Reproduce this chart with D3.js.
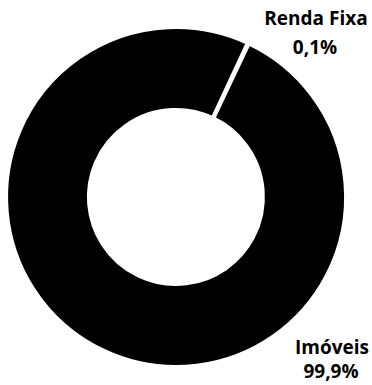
<!DOCTYPE html>
<html><head><meta charset="utf-8">
<script src="https://cdn.jsdelivr.net/npm/d3@7"></script>
<style>html,body{margin:0;padding:0;background:#fff;}svg{display:block;}</style>
</head><body>
<svg id="c" width="372" height="385"></svg>
<script>
const categories = ["Renda Fixa", "Imóveis"];
const values = [0.1, 99.9];
const valueLabels = ["0,1%", "99,9%"];

const svg = d3.select("#c");
const cx = 176, cy = 197, rOuter = 170, rInner = 87;
const startDeg = 25;
const pie = d3.pie().sort(null).value(d => d.v)
  .startAngle(startDeg * Math.PI / 180)
  .endAngle((startDeg + 360) * Math.PI / 180);
const data = categories.map((c, i) => ({c, v: values[i], l: valueLabels[i]}));
const arcs = pie(data);
const arc = d3.arc().innerRadius(rInner).outerRadius(rOuter);
const g = svg.append("g").attr("transform", `translate(${cx},${cy})`);
g.selectAll("path").data(arcs).join("path")
  .attr("d", arc).attr("fill", "#000")
  .attr("stroke", "#fff").attr("stroke-width", 4).attr("stroke-linejoin", "miter");

const labelPos = [[316, 25, 54], [332, 354, 378]];
const font = "'Open Sans', sans-serif";
labelPos.forEach((p, i) => {
  const t = svg.append("text").attr("text-anchor", "middle")
    .attr("font-family", font).attr("font-weight", 700)
    .attr("font-size", 19).attr("fill", "#000");
  t.append("tspan").attr("x", p[0]).attr("y", p[1]).text(data[i].c);
  t.append("tspan").attr("x", p[0] - 1).attr("y", p[2]).text(data[i].l);
});
</script>
</body></html>
